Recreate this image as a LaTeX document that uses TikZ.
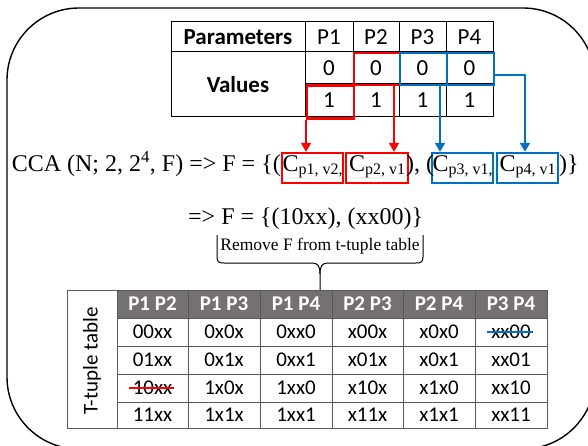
\documentclass[tikz,border=0pt]{standalone}
\usepackage{fontspec}
\setmainfont{Liberation Serif}
\newfontfamily\calib{Carlito}
\usetikzlibrary{arrows.meta,calc}
\definecolor{myred}{RGB}{255,0,0}
\definecolor{myblue}{RGB}{0,112,192}
\definecolor{hdr}{RGB}{118,113,113}
\definecolor{gridc}{RGB}{89,89,89}
\newcommand{\Csub}[1]{C\raisebox{-0.12em}{\fontsize{16}{16}\selectfont #1}}
\begin{document}
\begin{tikzpicture}[x=1pt,y=-1pt,
  topcell/.style={inner sep=0pt, font=\calib\fontsize{23}{23}\selectfont},
  topbold/.style={topcell, font=\calib\bfseries\fontsize{23}{23}\selectfont},
  tline/.style={draw=black, line width=1pt},
  redbox/.style={draw=myred, line width=2.4pt, inner sep=0pt},
  bluebox/.style={draw=myblue, line width=2.4pt, inner sep=0pt},
  redarrow/.style={draw=myred, line width=2pt, -{Triangle[width=10pt,length=9pt]}},
  bluearrow/.style={draw=myblue, line width=2pt, -{Triangle[width=10pt,length=9pt]}},
  ftext/.style={inner sep=0pt, font=\fontsize{24}{24}\selectfont},
  gline/.style={draw=gridc, line width=1pt},
  hcell/.style={inner sep=0pt, text=white, font=\calib\bfseries\fontsize{21}{21}\selectfont},
  dcell/.style={inner sep=0pt, font=\calib\fontsize{21}{21}\selectfont}]
\useasboundingbox (0,0) rectangle (588,446);
\begin{scope}
  \clip (0,0) rectangle (588,446);
  \draw[line width=1.4pt, rounded corners=72pt] (7,8) rectangle (595,449);
\end{scope}

% ---- top table ----
\draw[tline] (171,22) rectangle (493,117);
\draw[tline] (171,52) -- (493,52);
\draw[tline] (305,84) -- (493,84);
\foreach \x in {305,353,399,446} \draw[tline] (\x,22) -- (\x,117);
\node[topbold] (par) at (238,37) {Parameters};
\node[topbold] (val) at (238,85) {Values};
\node[topcell] (p1) at (329,37) {P1};
\node[topcell] (p2) at (376,37) {P2};
\node[topcell] (p3) at (422.5,37) {P3};
\node[topcell] (p4) at (469.5,37) {P4};
\node[topcell] (z1) at (329,68) {0};
\node[topcell] (z2) at (376,68) {0};
\node[topcell] (z3) at (422.5,68) {0};
\node[topcell] (z4) at (469.5,68) {0};
\node[topcell] (o1) at (329,100.5) {1};
\node[topcell] (o2) at (376,100.5) {1};
\node[topcell] (o3) at (422.5,100.5) {1};
\node[topcell] (o4) at (469.5,100.5) {1};

% highlight boxes
\node[redbox, minimum width=47pt, minimum height=33pt, anchor=north west] (b1) at (306,84.5) {};
\node[redbox, minimum width=46pt, minimum height=32pt, anchor=north west] (b2) at (353,52) {};
\node[bluebox, minimum width=47pt, minimum height=32pt, anchor=north west] (b3) at (399,52) {};
\node[bluebox, minimum width=47pt, minimum height=32pt, anchor=north west] (b4) at (446,52) {};

% ---- formula ----
\node[ftext, anchor=base east] (f1) at (281,172) {CCA (N; 2, 2\textsuperscript{4}, F) => F = \{(};
\node[redbox, minimum width=61pt, minimum height=30pt] (c1) at (312.5,168) {};
\node[redbox, minimum width=62pt, minimum height=30pt] (c2) at (377,168) {};
\node[bluebox, minimum width=61pt, minimum height=30pt] (c3) at (462.5,168) {};
\node[bluebox, minimum width=61pt, minimum height=30pt] (c4) at (527.5,168) {};
\node[ftext, anchor=base] (c1t) at (312.5,172) {\Csub{p1, v2,}};
\node[ftext, anchor=base] (c2t) at (377,172) {\Csub{p2, v1}};
\node[ftext, anchor=base] (c3t) at (462.5,172) {\Csub{p3, v1,}};
\node[ftext, anchor=base] (c4t) at (527.5,172) {\Csub{p4, v1}};
\node[ftext, anchor=base] (f2) at (420,172) {), (};
\node[ftext, anchor=base west] (f3) at (559,172) {)\}};

\coordinate (a2) at (394,0);
\coordinate (a3) at (440,0);
\coordinate (a4) at (525,75);
\draw[redarrow] (b1.south west) -- (b1.south west |- c1.north);
\draw[redarrow] (b2.south -| a2) -- (a2 |- c2.north);
\draw[bluearrow] (b3.south -| a3) -- (a3 |- c3.north);
\draw[bluearrow] (b4.east |- a4) -- (a4) -- (a4 |- c4.north);

\node[ftext, anchor=base west] (g1) at (188,225) {=> F = \{(10xx), (xx00)\}};

% ---- brace ----
\node[inner sep=0pt, anchor=base, font=\fontsize{17.5}{17.5}\selectfont] (rm) at (320,250) {Remove F from t-tuple table};
\coordinate (ttop) at (320,290);
\draw[line width=1pt] (217,235) -- (217,257) .. controls (217,262) and (219,263) .. (224,263)
  -- (312,263) .. controls (318,263) and (320,266) .. (320,274) -- (ttop);
\draw[line width=1pt] (423,235) -- (423,257) .. controls (423,262) and (421,263) .. (416,263)
  -- (328,263) .. controls (322,263) and (320,266) .. (320,274);

% ---- t-tuple table ----
\fill[hdr] (117,290) rectangle (547,318);
\draw[gline] (67,290) rectangle (547,428);
\draw[gline] (117,290) -- (117,428);
\foreach \y in {318,346,374,402} \draw[gline] (117,\y) -- (547,\y);
\foreach \x in {188,260,332,403,475} \draw[gline] (\x,290) -- (\x,428);
\node[dcell, rotate=90] (tl) at (92,361) {T-tuple table};

\node[hcell] (h1) at (152.5,304) {P1 P2};
\node[hcell] (h2) at (224,304) {P1 P3};
\node[hcell] (h3) at (296,304) {P1 P4};
\node[hcell] (h4) at (367.5,304) {P2 P3};
\node[hcell] (h5) at (439,304) {P2 P4};
\node[hcell] (h6) at (511,304) {P3 P4};

\node[dcell] (d11) at (152.5,332) {00xx};
\node[dcell] (d12) at (224,332) {0x0x};
\node[dcell] (d13) at (296,332) {0xx0};
\node[dcell] (d14) at (367.5,332) {x00x};
\node[dcell] (d15) at (439,332) {x0x0};
\node[dcell] (d16) at (511,332) {xx00};
\node[dcell] (d21) at (152.5,360) {01xx};
\node[dcell] (d22) at (224,360) {0x1x};
\node[dcell] (d23) at (296,360) {0xx1};
\node[dcell] (d24) at (367.5,360) {x01x};
\node[dcell] (d25) at (439,360) {x0x1};
\node[dcell] (d26) at (511,360) {xx01};
\node[dcell] (d31) at (152.5,388) {10xx};
\node[dcell] (d32) at (224,388) {1x0x};
\node[dcell] (d33) at (296,388) {1xx0};
\node[dcell] (d34) at (367.5,388) {x10x};
\node[dcell] (d35) at (439,388) {x1x0};
\node[dcell] (d36) at (511,388) {xx10};
\node[dcell] (d41) at (152.5,415) {11xx};
\node[dcell] (d42) at (224,415) {1x1x};
\node[dcell] (d43) at (296,415) {1xx1};
\node[dcell] (d44) at (367.5,415) {x11x};
\node[dcell] (d45) at (439,415) {x1x1};
\node[dcell] (d46) at (511,415) {xx11};

\draw[myred, line width=1.8pt] ($(d31.west)+(-4,0)$) -- ($(d31.east)+(2,0)$);
\draw[myblue, line width=1.8pt] ($(d16.west)+(-4,0)$) -- ($(d16.east)+(2,0)$);
\end{tikzpicture}
\end{document}
